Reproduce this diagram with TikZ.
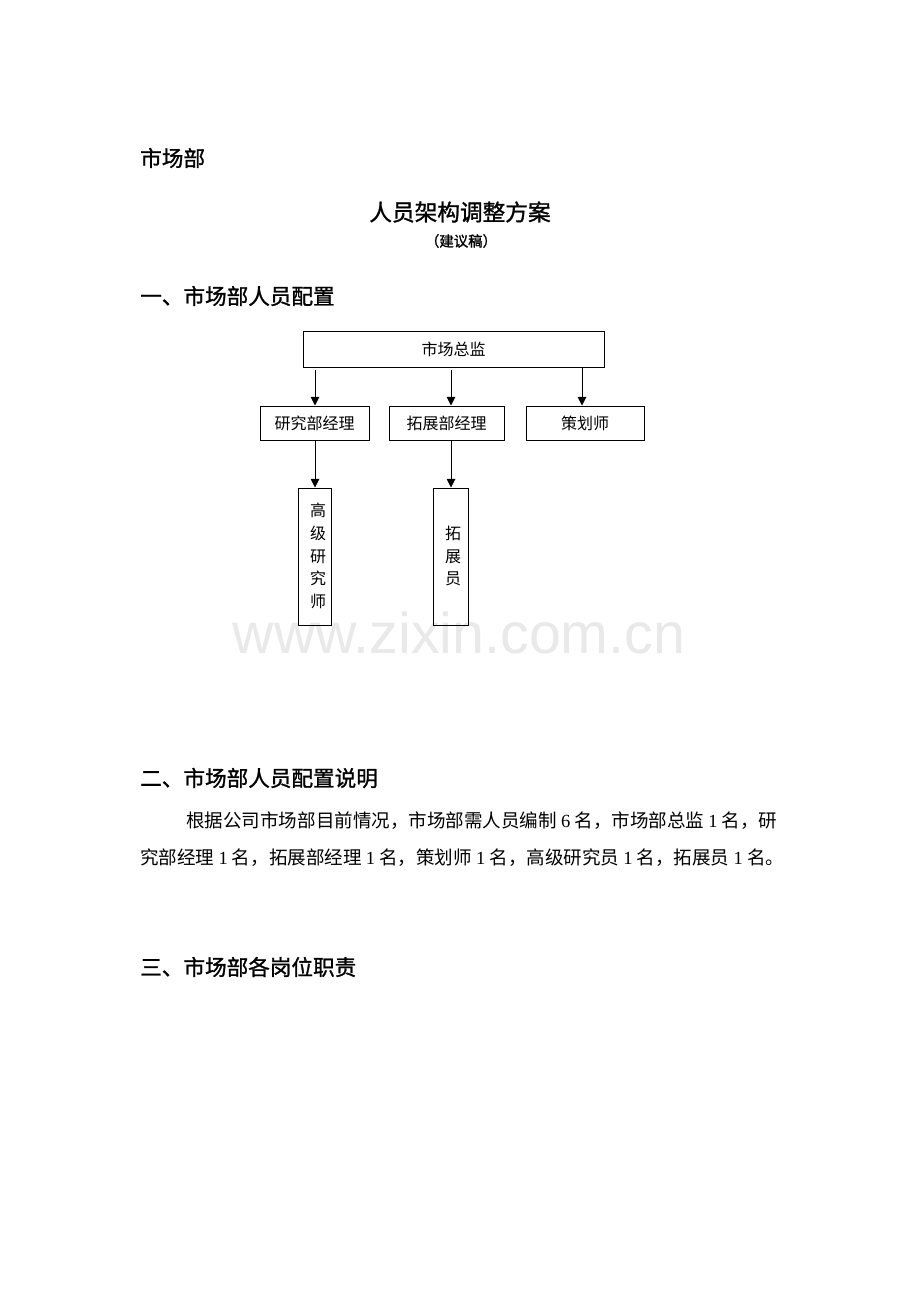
\documentclass[tikz,border=0pt]{standalone}
\usepackage{fontspec}
\setmainfont{Noto Sans CJK SC}
\newfontfamily\hei[FakeBold=1.2]{Noto Sans CJK SC}
\newfontfamily\tnr{Liberation Serif}
\newfontfamily\wmfont{Liberation Sans}
\usetikzlibrary{arrows.meta}
\definecolor{wm}{HTML}{E9E9E9}
\tikzset{
  box/.style={draw=black, line width=0.75pt, inner sep=0pt},
  boxtxt/.style={font=\fontsize{12}{12}\selectfont},
  arr/.style={draw=black, line width=0.75pt, -{Triangle[length=6.5pt,width=6.5pt]}},
  head/.style={anchor=west, inner sep=0pt, font=\hei\fontsize{16.2}{16.2}\selectfont},
  body/.style={anchor=west, inner sep=0pt, font=\fontsize{13.9}{13.9}\selectfont},
}
\begin{document}
\begin{tikzpicture}[x=0.75pt,y=-0.75pt]
\useasboundingbox (0,0) rectangle (920,1302);
\fill[white] (0,0) rectangle (920,1302);
% watermark
\node[inner sep=0pt, text=wm, font=\wmfont\fontsize{43}{43}\selectfont] (wm) at (459,633) {www.zixin.com.cn};
% headings
\node[head] (h0) at (140,158) {市场部};
\node[inner sep=0pt, font=\hei\fontsize{17}{17}\selectfont] (title) at (460,212) {人员架构调整方案};
\node[inner sep=0pt, font=\hei\fontsize{10.8}{10.8}\selectfont] (sub) at (461,241) {（建议稿）};
\node[head] (h1) at (140,296) {一、市场部人员配置};
% chart
\node[box, minimum width=301*0.75pt, minimum height=36*0.75pt, boxtxt] (top) at (453.5,349) {市场总监};
\node[box, minimum width=109*0.75pt, minimum height=34*0.75pt, boxtxt] (m1) at (314.5,423) {研究部经理};
\node[box, minimum width=115*0.75pt, minimum height=34*0.75pt, boxtxt] (m2) at (446.5,423) {拓展部经理};
\node[box, minimum width=118*0.75pt, minimum height=34*0.75pt, boxtxt] (m3) at (585,423) {策划师};
\node[box, minimum width=33*0.75pt, minimum height=137*0.75pt] (b1) at (314.5,556.5) {};
\node[box, minimum width=35*0.75pt, minimum height=137*0.75pt] (b2) at (450.5,556.5) {};
\node[boxtxt, inner sep=0pt, align=center] (t1) at (318,556) {高\\[5pt]级\\[5pt]研\\[5pt]究\\[5pt]师};
\node[boxtxt, inner sep=0pt, align=center] (t2) at (453,556) {拓\\[5pt]展\\[5pt]员};
\coordinate (a1s) at (315,370);
\coordinate (a2s) at (451,370);
\coordinate (a3s) at (582,368);
\draw[arr] (a1s) -- (a1s |- m1.north);
\draw[arr] (a2s) -- (a2s |- m2.north);
\draw[arr] (a3s) -- (a3s |- m3.north);
\draw[arr] (m1.south -| a1s) -- (a1s |- b1.north);
\draw[arr] (m2.south -| a2s) -- (a2s |- b2.north);
% section 2
\node[head] (h2) at (140,778) {二、市场部人员配置说明};
\node[body] (p1) at (186,821) {根据公司市场部目前情况，市场部需人员编制 {\tnr 6} 名，市场部总监 {\tnr 1} 名，研};
\node[body] (p2) at (140,858) {究部经理 {\tnr 1} 名，拓展部经理 {\tnr 1} 名，策划师 {\tnr 1} 名，高级研究员 {\tnr 1} 名，拓展员 {\tnr 1} 名。};
% section 3
\node[head] (h3) at (140,967) {三、市场部各岗位职责};
\end{tikzpicture}
\end{document}
